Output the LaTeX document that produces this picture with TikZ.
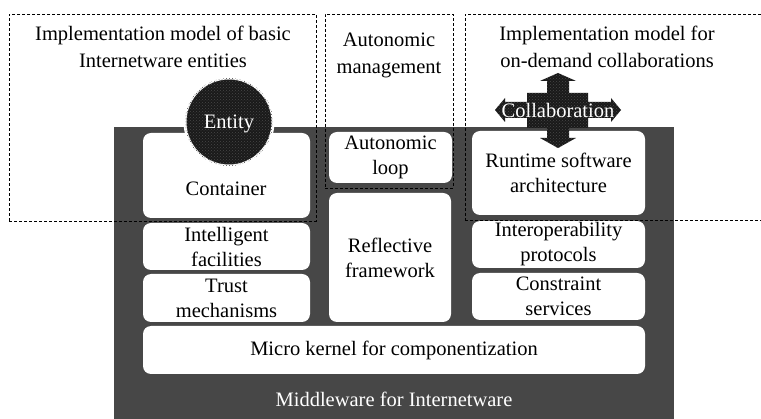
\documentclass[tikz,border=0pt]{standalone}
\usepackage{fontspec}
\setmainfont{Liberation Serif}
\usetikzlibrary{patterns}
\definecolor{mwgray}{RGB}{71,71,71}
\definecolor{inkdark}{RGB}{26,26,26}
\definecolor{hatch}{RGB}{72,72,72}
\begin{document}
\begin{tikzpicture}[x=1pt,y=-1pt,
  every node/.style={font=\fontsize{20.5}{25}\selectfont, inner sep=0pt, outer sep=0pt},
  wbox/.style={fill=white, rounded corners=8pt, align=center, anchor=north west},
  dashbox/.style={draw=black, line width=0.8pt, dash pattern=on 3pt off 2pt, anchor=north west},
  hdr/.style={align=center, font=\fontsize{20.5}{27}\selectfont},
  darkfill/.style={fill=inkdark, postaction={pattern=crosshatch dots, pattern color=hatch}},
]
\useasboundingbox (0,0) rectangle (761,419);
% middleware block
\node[fill=mwgray, minimum width=560, minimum height=300, anchor=north west] (mw) at (114,127) {};
% white boxes
\node[wbox, minimum width=167, minimum height=85] (container) at (143,133) {};
\node[wbox, minimum width=167, minimum height=47] (intel) at (143,223) {Intelligent\\facilities};
\node[wbox, minimum width=167, minimum height=48] (trust) at (143,274) {Trust\\mechanisms};
\node[wbox, minimum width=123, minimum height=51] (autoloop) at (329,132) {Autonomic\\loop};
\node[wbox, minimum width=122, minimum height=129] (reflect) at (329,193) {Reflective\\framework};
\node[wbox, minimum width=173, minimum height=84] (runtime) at (472,131) {Runtime software\\architecture};
\node[wbox, minimum width=173, minimum height=47] (interop) at (472,221) {Interoperability\\protocols};
\node[wbox, minimum width=173, minimum height=47] (constraint) at (472,273) {Constraint\\services};
\node[wbox, minimum width=502, minimum height=48] (micro) at (143,326) {Micro kernel for componentization};
\node (containerlabel) at (226,189) {Container};
\node[text=white] (mwlabel) at (394,399) {Middleware for Internetware};
% entity circle
\node[circle, minimum size=88, darkfill, draw=white, line width=3pt] (entity) at (229,122) {};
\node[text=white] (entitylabel) at (229,124) {Entity};
% collaboration cross
\path[darkfill] (558,73) -- (576,81) -- (569,81) -- (569,93) -- (588,93) -- (588,102) -- (611,102) -- (611,98) -- (621,110) -- (611,122) -- (611,118) -- (588,118) -- (588,128) -- (569,128) -- (569,138) -- (576,138) -- (558,148) -- (540,138) -- (547,138) -- (547,128) -- (527,128) -- (527,118) -- (505,118) -- (505,122) -- (495,110) -- (505,98) -- (505,102) -- (527,102) -- (527,93) -- (547,93) -- (547,81) -- (540,81) -- cycle;
\node[text=white] (collab) at (558,110) {Collaboration};
% header labels
\node[hdr] (h1) at (163,47) {Implementation model of basic\\Internetware entities};
\node[hdr] (h2) at (389,55) {Autonomic\\management};
\node[hdr] (h3) at (607,47) {Implementation model for\\on-demand collaborations};
% dashed boxes
\node[dashbox, minimum width=307, minimum height=207] (db1) at (9,14) {};
\node[dashbox, minimum width=128, minimum height=174] (db2) at (325,14) {};
\node[dashbox, minimum width=320, minimum height=206] (db3) at (465,14) {};
\end{tikzpicture}
\end{document}
